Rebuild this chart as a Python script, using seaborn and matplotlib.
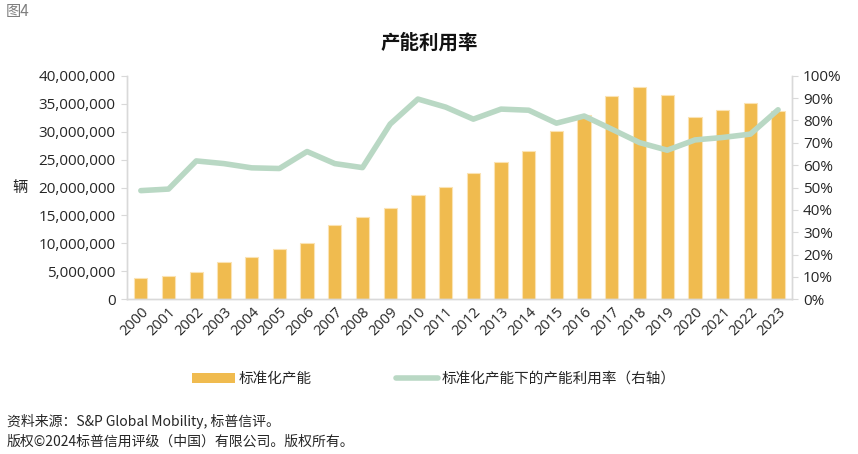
import numpy as np
import pandas as pd
import matplotlib
matplotlib.use("Agg")
import matplotlib.pyplot as plt
import matplotlib.ticker as mticker
from matplotlib.patches import Patch
from matplotlib.lines import Line2D
import seaborn as sns

years = [str(y) for y in range(2000, 2024)]
capacity = [3.82e6, 4.17e6, 4.83e6, 6.62e6, 7.63e6, 9.0e6, 10.08e6, 13.3e6,
            14.7e6, 16.4e6, 18.7e6, 20.06e6, 22.57e6, 24.5e6, 26.6e6, 30.1e6,
            32.9e6, 36.3e6, 37.97e6, 36.6e6, 32.6e6, 33.86e6, 35.2e6, 33.7e6]
utilization = [0.486, 0.493, 0.619, 0.607, 0.588, 0.585, 0.661, 0.607,
               0.589, 0.784, 0.896, 0.860, 0.806, 0.851, 0.846, 0.788,
               0.820, 0.761, 0.701, 0.667, 0.713, 0.724, 0.739, 0.848]

bar_label = "标准化产能"
line_label = "标准化产能下的产能利用率（右轴）"

sns.set_style("white")
plt.rcParams["font.family"] = ["Noto Sans CJK SC", "DejaVu Sans"]

bar_color = "#f0bb4f"
line_color = "#b9d8c4"
grid_color = "#d9d9d9"
text_color = "#262626"

df = pd.DataFrame({"year": years, "capacity": capacity, "util": utilization,
                   "pos": np.arange(len(years))})

fig = plt.figure(figsize=(8.58, 4.54), dpi=100)
ax = fig.add_axes([0.148, 0.341, 0.775, 0.492])

sns.barplot(data=df, x="year", y="capacity", color=bar_color, width=0.48,
            edgecolor="#fbe3b4", linewidth=0.8, saturation=1, ax=ax)
ax.set_ylim(0, 40e6)
ax.set_xlim(-0.5, len(years) - 0.5)
ax.yaxis.set_major_locator(mticker.MultipleLocator(5e6))
ax.yaxis.set_major_formatter(mticker.FuncFormatter(lambda v, p: f"{int(v):,}"))
ax.set_xlabel("")
ax.set_ylabel("辆", rotation=0, fontsize=11, color=text_color, ha="center",
              va="center")
ax.yaxis.set_label_coords(-0.161, 0.5)

ax2 = ax.twinx()
sns.lineplot(data=df, x="pos", y="util", color=line_color, linewidth=4,
             solid_capstyle="round", ax=ax2)
ax2.set_ylim(0, 1)
ax2.yaxis.set_major_locator(mticker.MultipleLocator(0.1))
ax2.yaxis.set_major_formatter(mticker.PercentFormatter(1.0, decimals=0))
ax2.set_ylabel("")
ax2.set_xlabel("")
ax2.set_xlim(-0.5, len(years) - 0.5)

for a in (ax, ax2):
    for s in a.spines.values():
        s.set_color(grid_color)
        s.set_linewidth(1)
    a.spines["top"].set_visible(False)
    a.tick_params(axis="y", length=4, color=grid_color, labelsize=11,
                  labelcolor=text_color, pad=4)
    for lab in a.get_yticklabels():
        lab.set_fontfamily(["Open Sans", "DejaVu Sans"])

ax.tick_params(axis="x", which="major", length=0, labelsize=10.5,
               labelcolor=text_color, pad=4)
ax.set_xticks(np.arange(-0.5, len(years), 1.0), minor=True)
ax.tick_params(axis="x", which="minor", length=5, color=grid_color)
for lab in ax.get_xticklabels():
    lab.set_rotation(45)
    lab.set_ha("right")
    lab.set_rotation_mode("anchor")
    lab.set_fontfamily(["Open Sans", "DejaVu Sans"])

fig.text(0.5, 0.905, "产能利用率", ha="center", va="center", fontsize=14,
         fontweight="bold", color="#111111")
fig.text(0.007, 0.975, "图4", ha="left", va="center", fontsize=11,
         color="#7f7f7f")

handles = [Patch(facecolor=bar_color, edgecolor="none"),
           Line2D([0], [0], color=line_color, linewidth=4, solid_capstyle="round")]
fig.legend(handles, [bar_label, line_label], loc="center",
           bbox_to_anchor=(0.506, 0.165), ncol=2, frameon=False, fontsize=10.5,
           columnspacing=5.8, handlelength=2.9, handleheight=0.75,
           handletextpad=0.25, labelcolor=text_color)

fig.text(0.008, 0.072, "资料来源：S&P Global Mobility, 标普信评。", ha="left",
         va="center", fontsize=10, color=text_color)
fig.text(0.008, 0.027, "版权©2024标普信用评级（中国）有限公司。版权所有。",
         ha="left", va="center", fontsize=10, color=text_color)

fig.savefig("out.png", dpi=100)
